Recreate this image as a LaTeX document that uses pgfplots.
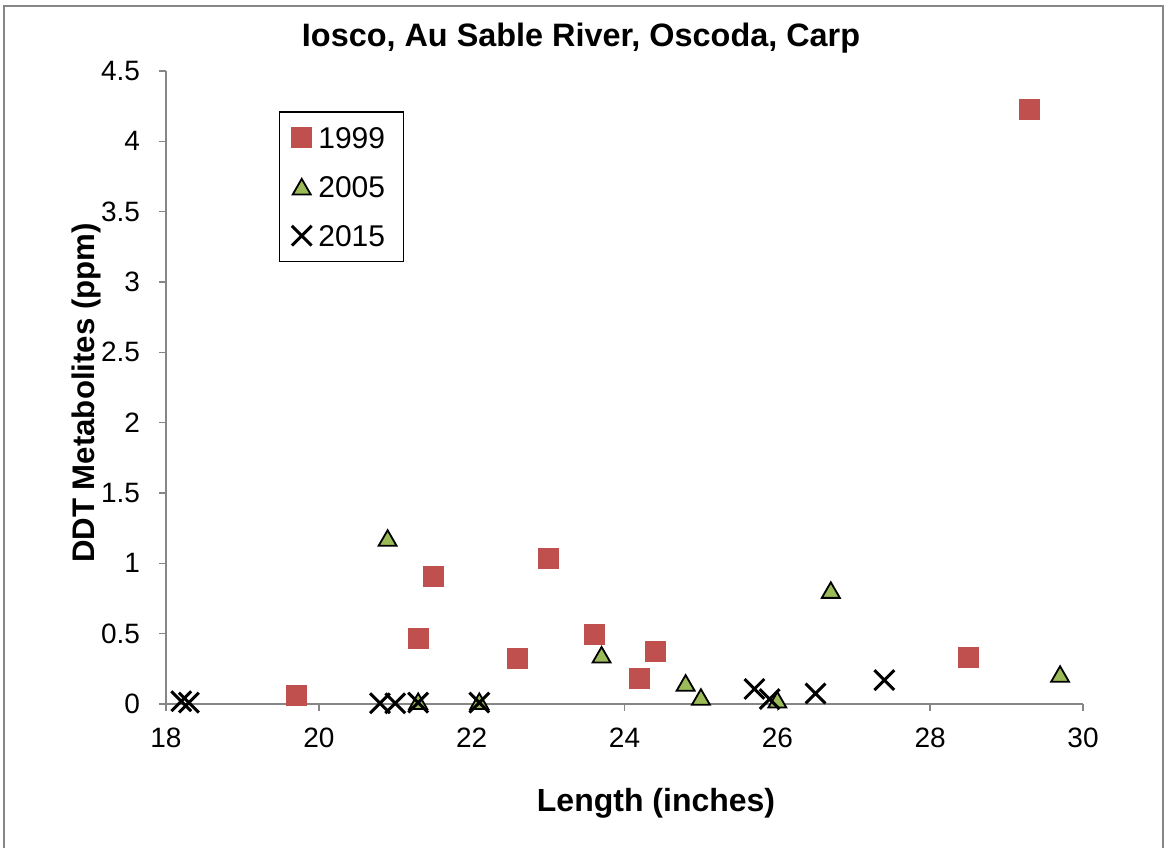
\documentclass[border=0pt]{standalone}
\usepackage{pgfplots}
\pgfplotsset{compat=1.18}
\usepackage{fontspec}
\setmainfont{Liberation Sans}
\definecolor{red99}{HTML}{C0504D}
\definecolor{green05}{HTML}{9BBB59}
\definecolor{axgray}{HTML}{868686}
\begin{document}
\begin{tikzpicture}[x=1pt,y=1pt]
\useasboundingbox (0,0) rectangle (583.5,424);
\fill[white] (0,0) rectangle (583.5,424);
\draw[axgray, line width=0.75pt] (2,0) -- (2,421) -- (581.5,421) -- (581.5,0);
\begin{axis}[
  at={(83pt,72pt)}, anchor=south west,
  scale only axis, width=458.5pt, height=316.5pt,
  xmin=18, xmax=30, ymin=0, ymax=4.5,
  xtick={18,20,22,24,26,28,30},
  ytick={0,0.5,1,1.5,2,2.5,3,3.5,4,4.5},
  axis lines=left,
  axis line style={-, axgray, line width=0.75pt},
  tick style={axgray, line width=0.75pt},
  tick align=outside, major tick length=3.5pt,
  /pgf/number format/assume math mode=true,
  tick label style={font=\fontsize{14}{16.8}\selectfont, text=black},
  yticklabel style={xshift=-6pt},
  xticklabel style={yshift=-5pt},
  clip=false,
  title={Iosco, Au Sable River, Oscoda, Carp},
  title style={font=\bfseries\fontsize{16.2}{19}\selectfont, at={(axis description cs:0.4526,1.0198)}, anchor=base, yshift=0pt},
  xlabel={Length (inches)},
  xlabel style={font=\bfseries\fontsize{16}{19}\selectfont, at={(axis description cs:0.5344,-0.1701)}, anchor=base},
  ylabel={DDT Metabolites (ppm)},
  ylabel style={font=\bfseries\fontsize{15.6}{18.5}\selectfont, at={(axis description cs:-0.0785,0.4913)}, anchor=base},
  legend style={at={(axis description cs:0.1232,0.9368)}, anchor=north west,
    draw=black, line width=0.75pt, fill=white,
    font=\fontsize{15}{18}\selectfont,
    inner xsep=6pt, inner ysep=7.6pt, row sep=13.8pt, column sep=0pt,
    nodes={inner xsep=3.3pt, inner ysep=0pt, text height=10.7pt, text depth=0pt}},
  legend cell align=left,
  legend image code/.code={\draw[mark repeat=2,mark phase=2,#1] plot coordinates {(0pt,0pt) (6pt,0pt) (12pt,0pt)};},
]
\addplot[only marks, mark=square*, mark size=5pt, mark options={fill=red99, draw=red99, line width=0.3pt}]
coordinates {
(19.7,0.065) (21.3,0.465) (21.5,0.91) (22.6,0.325) (23.0,1.035)
(23.6,0.495) (24.2,0.185) (24.4,0.375) (28.5,0.335) (29.3,4.23)
};
\addlegendentry{1999\hspace{4pt}}
\addplot[only marks, mark=triangle*, mark size=5.2pt, mark options={fill=green05, draw=black, line width=0.9pt, yshift=-1.3pt}]
coordinates {
(20.9,1.18) (21.3,0.02) (22.1,0.02) (23.7,0.35) (24.8,0.15)
(25.0,0.05) (26.0,0.03) (26.7,0.81) (29.7,0.213)
};
\addlegendentry{2005\hspace{4pt}}
\addplot[only marks, mark=x, mark size=7pt, mark options={draw=black, line width=1.5pt}]
coordinates {
(18.2,0.02) (18.3,0.01) (20.8,0.005) (21.0,0.005) (21.3,0.01)
(22.1,0.01) (25.7,0.107) (25.9,0.035) (26.5,0.075) (27.4,0.17)
};
\addlegendentry{2015\hspace{4pt}}
\end{axis}
\end{tikzpicture}
\end{document}
